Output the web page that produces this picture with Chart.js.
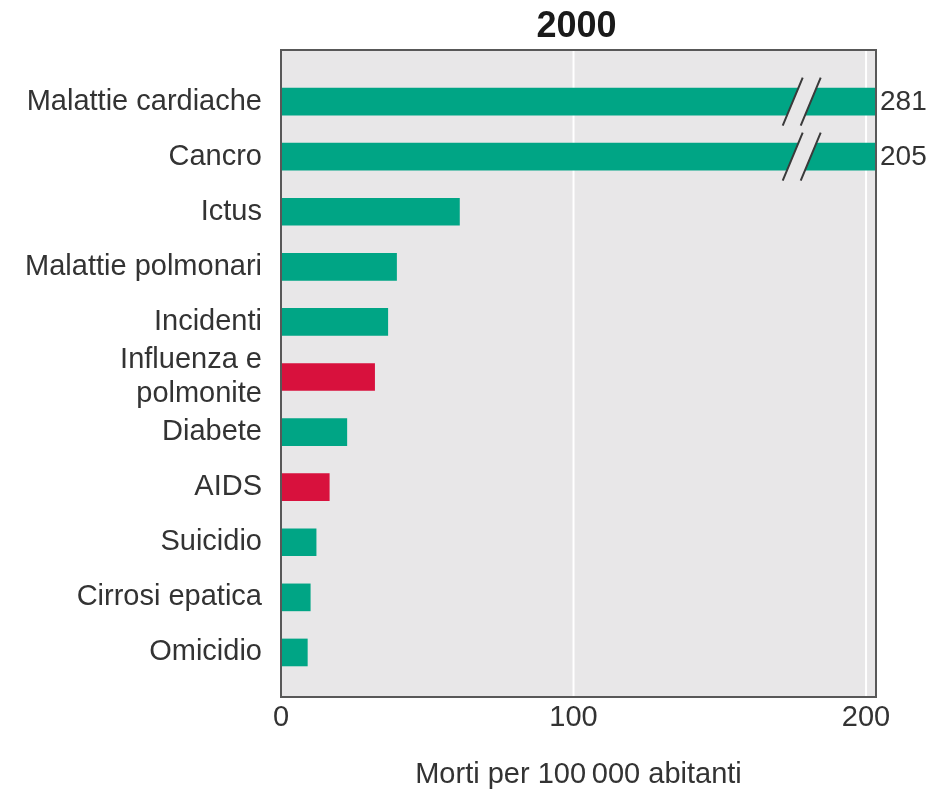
<!DOCTYPE html>
<html>
<head>
<meta charset="utf-8">
<title>Cause di morte 2000</title>
<script src="https://cdn.jsdelivr.net/npm/chart.js@4.4.1/dist/chart.umd.min.js"></script>
<style>
  body { margin: 0; background: #fff; }
  canvas { display: block; }
</style>
</head>
<body>
<canvas id="deathChart" width="943" height="792"></canvas>
<script>
const categories = [
  "Malattie cardiache",
  "Cancro",
  "Ictus",
  "Malattie polmonari",
  "Incidenti",
  ["Influenza e", "polmonite"],
  "Diabete",
  "AIDS",
  "Suicidio",
  "Cirrosi epatica",
  "Omicidio"
];
const deathRates = [281, 205, 61, 39.5, 36.5, 32, 22.5, 16.5, 12, 10, 9];
const infectious = ["Influenza e polmonite", "AIDS"];
const xTicks = [0, 100, 200];
const xMax = 203.4;
const breakAt = 178;
const chartTitle = "2000";
const axisTitle = "Morti per 100\u2009000 abitanti";

const GREEN = "#00a585";
const RED = "#d8113d";
const PANEL = "#e8e7e8";
const BORDER = "#585858";
const TEXT = "#333333";
const FONT = "'Liberation Sans', Arial, Helvetica, sans-serif";

const labelText = (l) => (Array.isArray(l) ? l.join(" ") : l);

// panel, gridlines, border, breaks and labels outside the plot
const panelPlugin = {
  id: "panel",
  beforeDraw(chart) {
    const { ctx, chartArea, scales } = chart;
    const top = 50, bottom = 697;
    ctx.save();
    ctx.fillStyle = PANEL;
    ctx.fillRect(chartArea.left, top, chartArea.right - chartArea.left, bottom - top);
    ctx.strokeStyle = "#ffffff";
    ctx.lineWidth = 2;
    xTicks.slice(1).forEach((v) => {
      const x = scales.x.getPixelForValue(v);
      ctx.beginPath();
      ctx.moveTo(x, top);
      ctx.lineTo(x, bottom);
      ctx.stroke();
    });
    ctx.restore();
  },
  afterDraw(chart) {
    const { ctx, chartArea, scales } = chart;
    const top = 50, bottom = 697;
    const meta = chart.getDatasetMeta(0);
    ctx.save();
    // broken bars
    meta.data.forEach((bar, i) => {
      if (deathRates[i] <= xMax) return;
      const xc = scales.x.getPixelForValue(breakAt);
      const y = bar.y;
      ctx.fillStyle = PANEL;
      ctx.beginPath();
      ctx.moveTo(xc - 19, y + 24);
      ctx.lineTo(xc + 1, y - 24);
      ctx.lineTo(xc + 19, y - 24);
      ctx.lineTo(xc - 1, y + 24);
      ctx.closePath();
      ctx.fill();
      ctx.strokeStyle = "#3a3a3a";
      ctx.lineWidth = 2;
      ctx.beginPath();
      ctx.moveTo(xc - 19, y + 24);
      ctx.lineTo(xc + 1, y - 24);
      ctx.moveTo(xc - 1, y + 24);
      ctx.lineTo(xc + 19, y - 24);
      ctx.stroke();

      ctx.fillStyle = TEXT;
      ctx.font = "28px " + FONT;
      ctx.textAlign = "left";
      ctx.textBaseline = "middle";
      ctx.fillText(String(deathRates[i]), chartArea.right + 4, y + 1);
    });
    // frame
    ctx.strokeStyle = BORDER;
    ctx.lineWidth = 2;
    ctx.strokeRect(chartArea.left, top, chartArea.right - chartArea.left, bottom - top);
    // title
    ctx.fillStyle = "#1a1a1a";
    ctx.font = "bold 36px " + FONT;
    ctx.textAlign = "center";
    ctx.textBaseline = "middle";
    ctx.fillText(chartTitle, (chartArea.left + chartArea.right) / 2 - 2, 27);
    ctx.restore();
  }
};

const ctx = document.getElementById("deathChart").getContext("2d");
const chart = new Chart(ctx, {
  type: "bar",
  data: {
    labels: categories,
    datasets: [
      {
        label: "Morti per 100 000 abitanti",
        data: deathRates,
        backgroundColor: (c) =>
          infectious.includes(labelText(categories[c.index])) ? RED : GREEN,
        barThickness: 27,
        borderWidth: 0
      }
    ]
  },
  options: {
    indexAxis: "y",
    responsive: false,
    animation: false,
    layout: { padding: { top: 74, right: 67, bottom: 0, left: 0 } },
    plugins: {
      legend: { display: false },
      tooltip: { enabled: false }
    },
    scales: {
      x: {
        min: 0,
        max: xMax,
        afterBuildTicks: (scale) => {
          scale.ticks = xTicks.map((v) => ({ value: v }));
        },
        afterFit: (scale) => {
          scale.height = 112;
        },
        grid: { display: false, drawTicks: false },
        border: { display: false },
        ticks: {
          padding: 21,
          color: TEXT,
          font: { family: FONT, size: 29 },
          maxRotation: 0,
          autoSkip: false
        },
        title: {
          display: true,
          text: axisTitle,
          color: TEXT,
          font: { family: FONT, size: 29 },
          padding: { top: 0, bottom: 0 }
        }
      },
      y: {
        afterFit: (scale) => {
          scale.width = 281;
        },
        grid: { display: false, drawTicks: false },
        border: { display: false },
        ticks: {
          padding: 19,
          color: TEXT,
          autoSkip: false,
          font: { family: FONT, size: 29, lineHeight: 1.15 }
        }
      }
    }
  },
  plugins: [panelPlugin]
});
</script>
</body>
</html>
